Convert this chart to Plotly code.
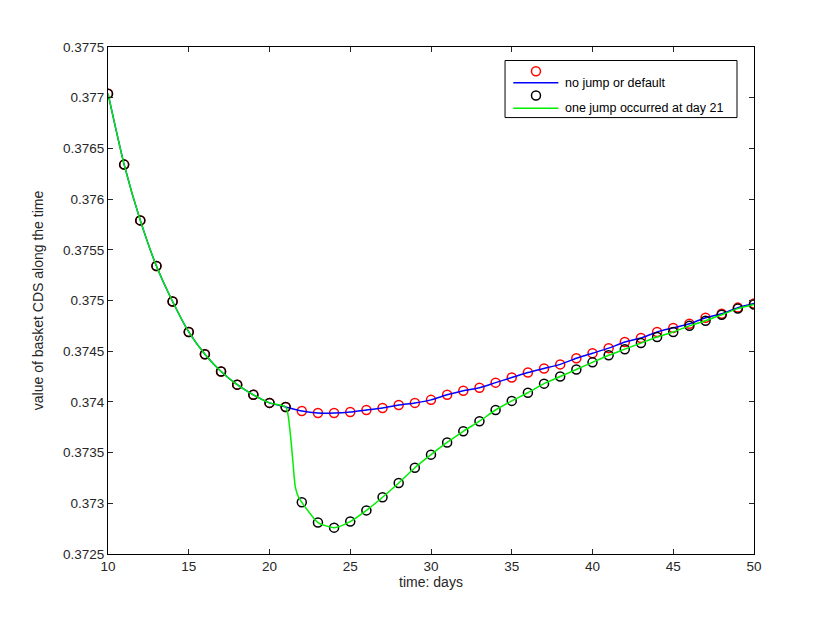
import plotly.graph_objects as go

# time axis (days) and values
days = list(range(10, 51))

no_jump = [0.37704, 0.37634, 0.37579, 0.37534, 0.37499, 0.37469, 0.37447, 0.37430,
           0.37417, 0.37407, 0.37399, 0.37395, 0.37391, 0.37389, 0.37389, 0.37390,
           0.37392, 0.37394, 0.37397, 0.37399, 0.37402, 0.37407, 0.37411, 0.37414,
           0.37419, 0.37424, 0.37429, 0.37433, 0.37437, 0.37443, 0.37448, 0.37453,
           0.37459, 0.37463, 0.37469, 0.37473, 0.37477, 0.37483, 0.37487, 0.37493,
           0.37497]

one_jump = [0.37704, 0.37634, 0.37579, 0.37534, 0.37499, 0.37469, 0.37447, 0.37430,
            0.37417, 0.37407, 0.37399, 0.37395, 0.37301, 0.37281, 0.37276, 0.37282,
            0.37293, 0.37306, 0.37320, 0.37335, 0.37348, 0.37360, 0.37371, 0.37381,
            0.37392, 0.37401, 0.37409, 0.37418, 0.37425, 0.37432, 0.37439, 0.37446,
            0.37452, 0.37458, 0.37464, 0.37469, 0.37475, 0.37480, 0.37486, 0.37492,
            0.37496]

# extra points of the green curve during the jump (between day 21 and 22)
jump_days = [21.15, 21.3, 21.45, 21.6, 21.8]
jump_vals = [0.37387, 0.37367, 0.37341, 0.37316, 0.37306]

x_ticks = [10, 15, 20, 25, 30, 35, 40, 45, 50]
y_ticks = [0.3725, 0.373, 0.3735, 0.374, 0.3745, 0.375, 0.3755, 0.376, 0.3765, 0.377, 0.3775]

legend_labels = ['no jump or default', 'one jump occurred at day 21']

# green line = daily values with the jump detail merged in
green = sorted(list(zip(days, one_jump)) + list(zip(jump_days, jump_vals)))
green_x = [p[0] for p in green]
green_y = [p[1] for p in green]

RED, BLUE, BLACK, GREEN = '#ff0000', '#0000ff', '#000000', '#00ee00'

fig = go.Figure()
fig.add_trace(go.Scatter(x=days, y=no_jump, mode='markers',
                         marker=dict(symbol='circle-open', size=9, color=RED,
                                     line=dict(width=1.5, color=RED))))
fig.add_trace(go.Scatter(x=days, y=no_jump, mode='lines',
                         line=dict(color=BLUE, width=1.5, shape='spline', smoothing=0.6)))
fig.add_trace(go.Scatter(x=days, y=one_jump, mode='markers',
                         marker=dict(symbol='circle-open', size=9, color=BLACK,
                                     line=dict(width=1.5, color=BLACK))))
fig.add_trace(go.Scatter(x=green_x, y=green_y, mode='lines',
                         line=dict(color=GREEN, width=1.5, shape='spline', smoothing=0.6)))

axis_style = dict(showline=True, linecolor='black', linewidth=1, mirror='ticks',
                  ticks='inside', ticklen=5, tickcolor='#262626', showgrid=False,
                  zeroline=False, automargin=False, tickfont=dict(size=13.5, color='#262626'))

fig.update_xaxes(range=[10, 50], tickvals=x_ticks, ticktext=[str(t) for t in x_ticks],
                 title=dict(text='time: days', standoff=0, font=dict(size=14, color='#262626')),
                 **axis_style)
fig.update_yaxes(range=[0.3725, 0.3775], tickvals=y_ticks, ticktext=[f'{t:g}' for t in y_ticks],
                 title=dict(text='value of basket CDS along the time', standoff=16,
                            font=dict(size=14, color='#262626')),
                 **axis_style)

# MATLAB-style legend box: marker on one row, line + label on the next
shapes = [dict(type='rect', xref='paper', yref='paper', x0=0.6146, x1=0.9737,
               y0=0.8608, y1=0.9734, line=dict(color='black', width=1), fillcolor='white')]
annotations = []
rows = [(RED, BLUE, 0.9522, 0.9293), (BLACK, GREEN, 0.9043, 0.8792)]
for (mc, lc, ym, yl), label in zip(rows, legend_labels):
    shapes.append(dict(type='circle', xref='paper', yref='paper',
                       xsizemode='pixel', ysizemode='pixel', xanchor=0.6625, yanchor=ym,
                       x0=-4.5, x1=4.5, y0=-4.5, y1=4.5, line=dict(color=mc, width=1.5)))
    shapes.append(dict(type='line', xref='paper', yref='paper', x0=0.6274, x1=0.6971,
                       y0=yl, y1=yl, line=dict(color=lc, width=1.5)))
    annotations.append(dict(xref='paper', yref='paper', x=0.7048, y=yl, text=label,
                            showarrow=False, xanchor='left', yanchor='middle',
                            font=dict(size=12.5, color='#000000')))

fig.update_layout(
    width=830, height=623,
    margin=dict(l=100, r=84, t=39, b=77),
    paper_bgcolor='white', plot_bgcolor='white',
    font=dict(family='Liberation Sans, Arial, sans-serif', color='#262626'),
    showlegend=False,
    shapes=shapes,
    annotations=annotations,
)

fig.write_html("out.html")
